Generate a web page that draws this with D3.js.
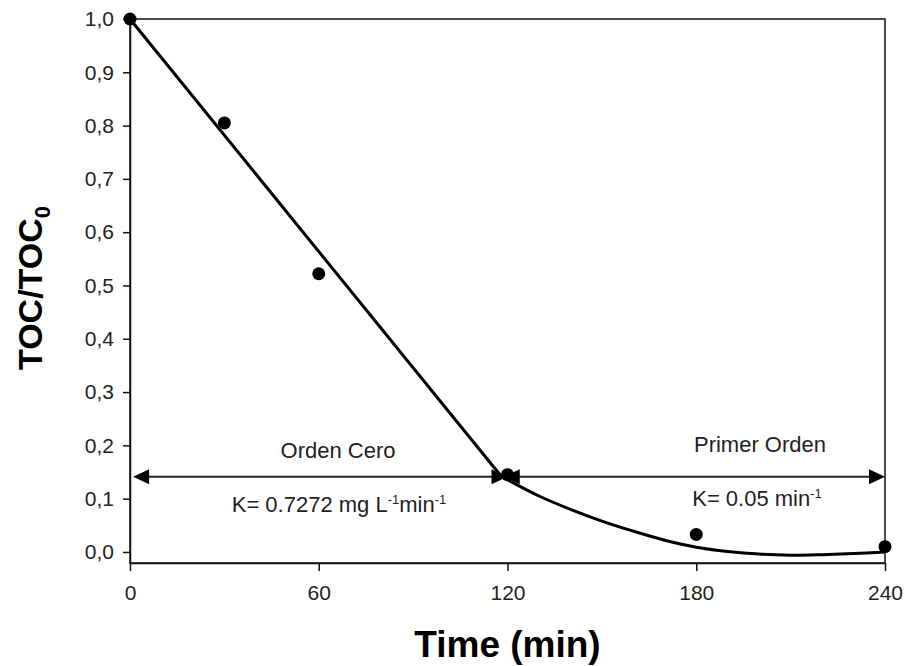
<!DOCTYPE html>
<html><head><meta charset="utf-8">
<script src="https://cdn.jsdelivr.net/npm/d3@7"></script>
<style>body{margin:0;background:#fff}svg{display:block}text{font-family:"Liberation Sans",Arial,sans-serif}</style>
</head><body><svg id="c" width="905" height="666"></svg>
<script>
// Data
const measuredTime = [0, 30, 60, 120, 180, 240];
const measuredTOC = [1.0, 0.805, 0.522, 0.145, 0.033, 0.01];
const zeroOrderTime = [0, 118];
const zeroOrderFit = [1.0, 0.142];
const firstOrderTime = [118, 130, 140, 150, 160, 170, 180, 190, 200, 210, 220, 230, 240];
const firstOrderFit = [0.142, 0.105, 0.08, 0.058, 0.039, 0.022, 0.009, 0.001, -0.004, -0.006, -0.005, -0.003, 0.0];
const xTicks = [0, 60, 120, 180, 240];
const yTicks = [0, 0.1, 0.2, 0.3, 0.4, 0.5, 0.6, 0.7, 0.8, 0.9, 1.0];
const arrowZero = [1, 120];
const arrowFirst = [118.8, 240];
const arrowLevel = 0.141;

const svg = d3.select("#c");
const L = 130, R = 885, T = 19, B = 563;
const x = d3.scaleLinear().domain([0, 240]).range([L, R]);
const y = d3.scaleLinear().domain([-0.0207, 1.0]).range([B, T]);
const loc = d3.formatLocale({decimal: ",", thousands: ".", grouping: [3], currency: ["", ""]});
const fmt = loc.format(".1f");

// frame
svg.append("rect").attr("x", L).attr("y", T).attr("width", R - L).attr("height", B - T)
  .attr("fill", "none").attr("stroke", "#111").attr("stroke-width", 1.5);

const yAxis = svg.append("g").attr("transform", `translate(${L},0)`)
  .call(d3.axisLeft(y).tickValues(yTicks).tickFormat(fmt).tickSize(7).tickSizeOuter(0).tickPadding(9));
const xAxis = svg.append("g").attr("transform", `translate(0,${B})`)
  .call(d3.axisBottom(x).tickValues(xTicks).tickSize(8).tickSizeOuter(0).tickPadding(14));
[yAxis, xAxis].forEach(g => {
  g.select(".domain").attr("stroke", "#111").attr("stroke-width", 1.5);
  g.selectAll(".tick line").attr("stroke", "#111").attr("stroke-width", 1.5);
  g.selectAll(".tick text").attr("font-size", 21).attr("fill", "#222")
    .attr("font-family", "'Liberation Sans', Arial, sans-serif");
});

// fit lines
const line = d3.line().x(d => x(d[0])).y(d => y(d[1]));
svg.append("path").datum(d3.zip(zeroOrderTime, zeroOrderFit)).attr("d", line)
  .attr("fill", "none").attr("stroke", "#000").attr("stroke-width", 3);
svg.append("path").datum(d3.zip(firstOrderTime, firstOrderFit))
  .attr("d", line.curve(d3.curveCatmullRom))
  .attr("fill", "none").attr("stroke", "#000").attr("stroke-width", 3);

// points
svg.selectAll("circle.pt").data(d3.zip(measuredTime, measuredTOC)).join("circle")
  .attr("class", "pt").attr("cx", d => x(d[0])).attr("cy", d => y(d[1])).attr("r", 6.5).attr("fill", "#000");

// arrows
function arrow(t0, t1) {
  const yy = y(arrowLevel), x0 = x(t0), x1 = x(t1);
  svg.append("line").attr("x1", x0 + 5).attr("x2", x1 - 5).attr("y1", yy).attr("y2", yy)
    .attr("stroke", "#222").attr("stroke-width", 2);
  const hl = 16, hw = 7.5;
  svg.append("path").attr("d", `M${x0},${yy}L${x0 + hl},${yy - hw}L${x0 + hl},${yy + hw}Z`).attr("fill", "#000");
  svg.append("path").attr("d", `M${x1},${yy}L${x1 - hl},${yy - hw}L${x1 - hl},${yy + hw}Z`).attr("fill", "#000");
}
arrow(arrowZero[0], arrowZero[1]);
arrow(arrowFirst[0], arrowFirst[1]);

// annotations
const ann = svg.append("g").attr("font-size", 22).attr("fill", "#222");
ann.append("text").attr("x", 338).attr("y", 458).attr("text-anchor", "middle").text("Orden Cero");
const k1 = ann.append("text").attr("x", 339).attr("y", 512).attr("text-anchor", "middle");
k1.append("tspan").text("K= 0.7272 mg L");
k1.append("tspan").attr("font-size", 13).attr("dy", -8).text("-1");
k1.append("tspan").attr("dy", 8).text("min");
k1.append("tspan").attr("font-size", 13).attr("dy", -8).text("-1");
ann.append("text").attr("x", 760).attr("y", 452).attr("text-anchor", "middle").text("Primer Orden");
const k2 = ann.append("text").attr("x", 757).attr("y", 506).attr("text-anchor", "middle");
k2.append("tspan").text("K= 0.05 min");
k2.append("tspan").attr("font-size", 13).attr("dy", -8).text("-1");

// axis titles
svg.append("text").attr("x", (L + R) / 2).attr("y", 657).attr("text-anchor", "middle")
  .attr("font-size", 37).attr("font-weight", "bold").attr("fill", "#000").text("Time (min)");
const yt = svg.append("text").attr("transform", "translate(42,288) rotate(-90)").attr("text-anchor", "middle")
  .attr("font-size", 34).attr("font-weight", "bold").attr("fill", "#000");
yt.append("tspan").text("TOC/TOC");
yt.append("tspan").attr("font-size", 22).attr("dy", 8).text("0");
</script></body></html>
